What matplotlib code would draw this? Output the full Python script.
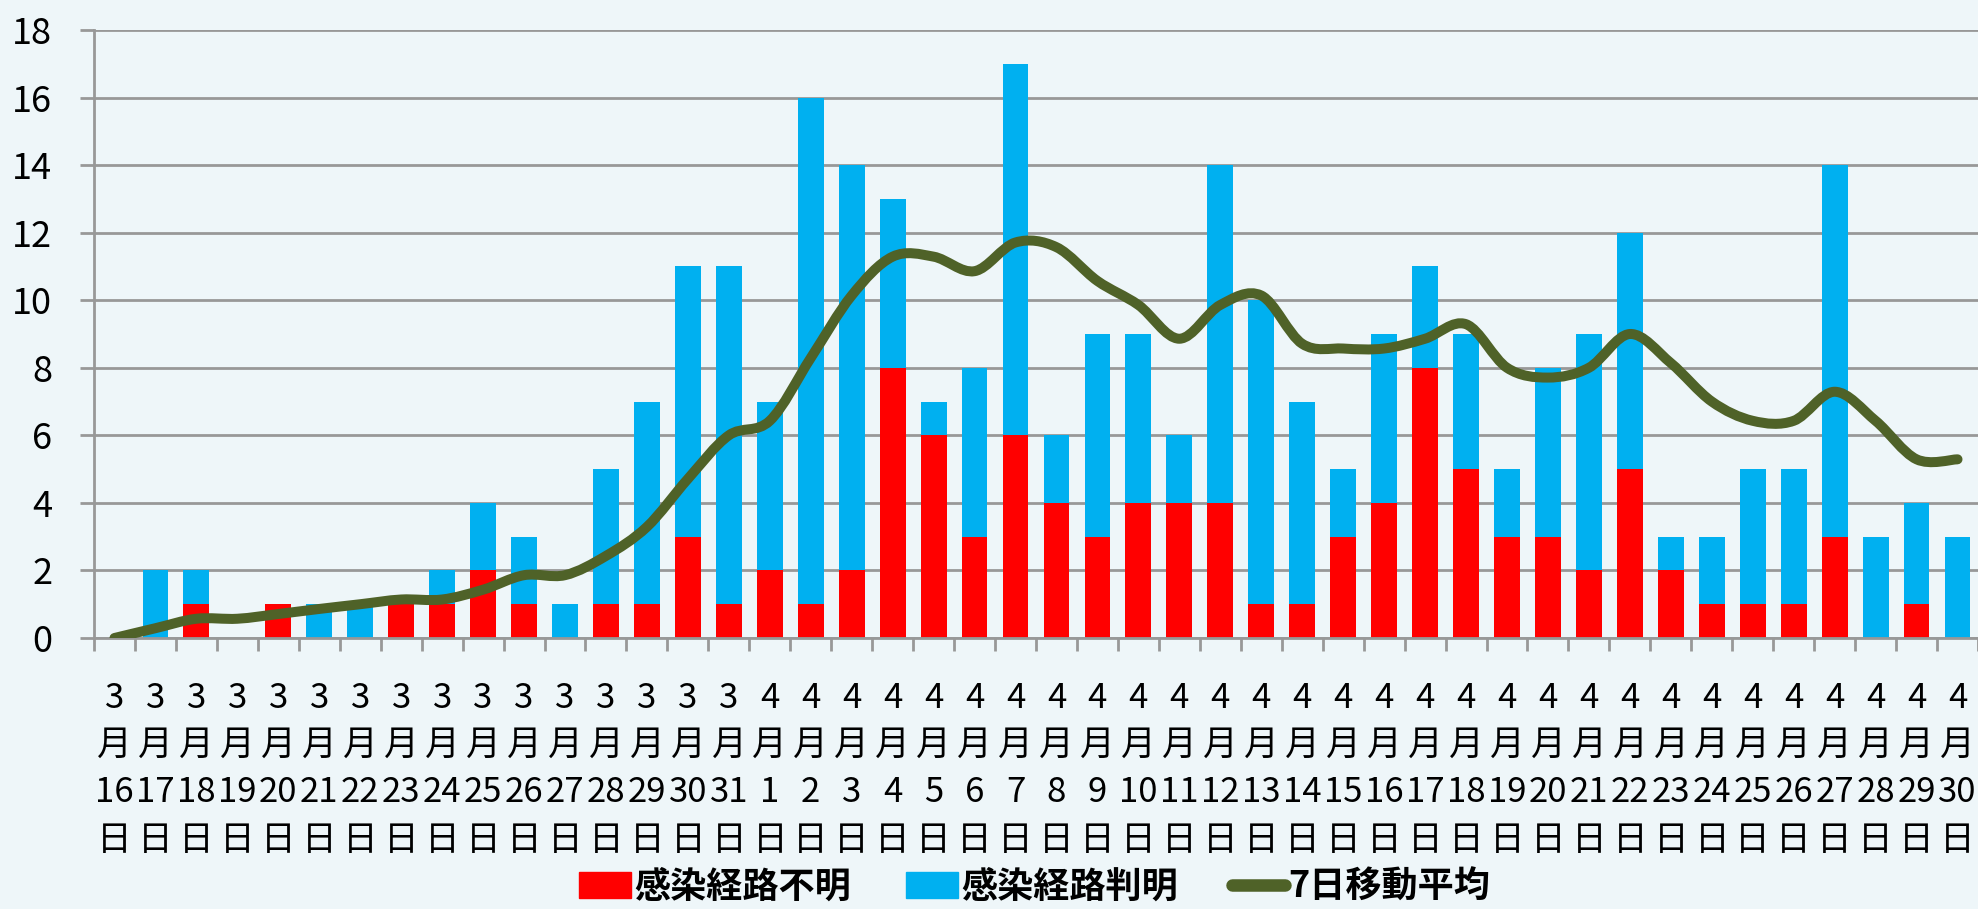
import matplotlib
matplotlib.use('Agg')
import matplotlib.pyplot as plt
from matplotlib.path import Path
from matplotlib.patches import PathPatch, Patch
from matplotlib.lines import Line2D
import numpy as np

plt.rcParams['font.family'] = ['Noto Sans CJK JP', 'DejaVu Sans']

months = [3] * 16 + [4] * 30
days = list(range(16, 32)) + list(range(1, 31))
unknown = [0, 0, 1, 0, 1, 0, 0, 1, 1, 2, 1, 0, 1, 1, 3, 1,
           2, 1, 2, 8, 6, 3, 6, 4, 3, 4, 4, 4, 1, 1, 3, 4, 8, 5, 3, 3,
           2, 5, 2, 1, 1, 1, 3, 0, 1, 0]
known = [0, 2, 1, 0, 0, 1, 1, 0, 1, 2, 2, 1, 4, 6, 8, 10,
         5, 15, 12, 5, 1, 5, 11, 2, 6, 5, 2, 10, 9, 6, 2, 5, 3, 4, 2, 5,
         7, 7, 1, 2, 4, 4, 11, 3, 3, 3]
avg7 = [0.00, 0.29, 0.57, 0.57, 0.71, 0.86, 1.00, 1.14, 1.14, 1.43, 1.86, 1.86,
        2.43, 3.29, 4.71, 6.00, 6.43, 8.29, 10.14, 11.29, 11.29, 10.86, 11.71,
        11.57, 10.57, 9.86, 8.86, 9.86, 10.14, 8.71, 8.57, 8.57, 8.86, 9.29,
        8.00, 7.71, 8.00, 9.00, 8.14, 7.00, 6.43, 6.43, 7.29, 6.43, 5.29, 5.29]
series_names = ['感染経路不明', '感染経路判明', '7日移動平均']

bg = '#EEF6F9'
red = '#FF0000'
blue = '#00B0F0'
green = '#4F6228'
grid = '#989898'


def smooth_path(xs, ys):
    # Excel-style smoothed line: cubic Bezier through every point
    pts = np.column_stack([xs, ys])
    n = len(pts)
    verts = [pts[0]]
    codes = [Path.MOVETO]
    for i in range(n - 1):
        p0 = pts[max(i - 1, 0)]
        p1 = pts[i]
        p2 = pts[i + 1]
        p3 = pts[min(i + 2, n - 1)]
        verts += [p1 + (p2 - p0) / 6, p2 - (p3 - p1) / 6, p2]
        codes += [Path.CURVE4] * 3
    return Path(verts, codes)


def main():
    x = np.arange(len(days))
    fig = plt.figure(figsize=(19.78, 9.09), dpi=100, facecolor=bg)
    ax = fig.add_axes([94 / 1978, 1 - 638 / 909, 1 - 94 / 1978, (638 - 30) / 909])
    ax.set_facecolor(bg)

    ax.bar(x, unknown, width=0.63, color=red, zorder=2)
    ax.bar(x, known, width=0.63, bottom=unknown, color=blue, zorder=2)
    ax.add_patch(PathPatch(smooth_path(x, avg7), facecolor='none', edgecolor=green,
                           lw=7.2, capstyle='round', joinstyle='round', zorder=3))

    ax.set_xlim(-0.5, len(days) - 0.5)
    ax.set_ylim(0, 18)
    ax.set_yticks(range(0, 19, 2))
    ax.yaxis.grid(True, color=grid, lw=2)
    ax.set_axisbelow(True)
    for side in ['top', 'right']:
        ax.spines[side].set_visible(False)
    for side in ['left', 'bottom']:
        ax.spines[side].set_color(grid)
        ax.spines[side].set_linewidth(2)
    ax.tick_params(axis='y', length=10, width=2, color=grid, labelsize=26, pad=20)

    ax.set_xticks(np.arange(-0.5, len(days), 1))
    ax.set_xticklabels([])
    ax.tick_params(axis='x', which='major', length=9, width=2, color=grid)
    ax.set_xticks(x, minor=True)
    ax.set_xticklabels([f'{m}\n月\n{d}\n日' for m, d in zip(months, days)], minor=True)
    ax.tick_params(axis='x', which='minor', length=0, labelsize=25, pad=31)
    for lbl in ax.get_xticklabels(minor=True):
        lbl.set_linespacing(1.45)

    handles = [Patch(color=red), Patch(color=blue),
               Line2D([0], [0], color=green, lw=9, solid_capstyle='round')]
    fig.legend(handles, series_names, loc='center', bbox_to_anchor=(0.523, 0.024),
               ncol=3, frameon=False, prop={'size': 26, 'weight': 'bold'},
               handlelength=1.45, handletextpad=0.1, columnspacing=1.5,
               borderpad=0.1)

    fig.savefig('out.png', dpi=100, facecolor=bg)


if __name__ == '__main__':
    main()
